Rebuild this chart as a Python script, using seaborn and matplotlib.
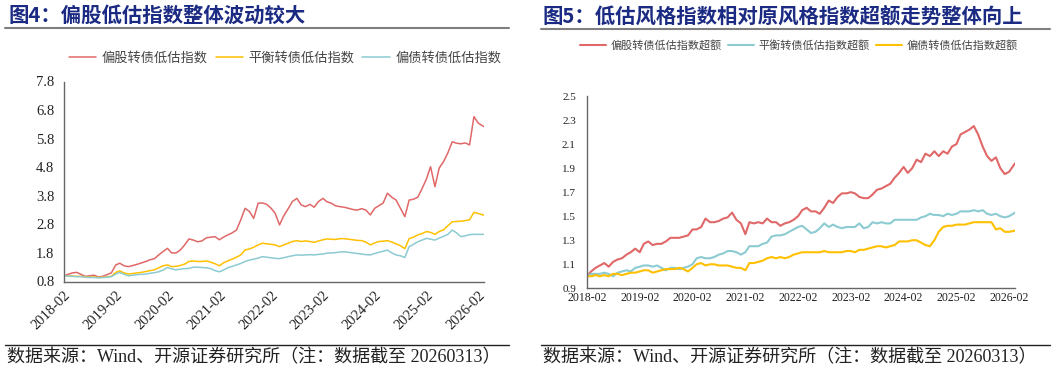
import pandas as pd
import numpy as np
import matplotlib
matplotlib.use('Agg')
import matplotlib.pyplot as plt
import matplotlib.dates as mdates
from matplotlib.lines import Line2D
import seaborn as sns

# ---------------- data (monthly readings, last point = 2026-03-13) ----------------
dates = list(pd.date_range('2018-02-01', '2026-02-01', freq='MS')) + [pd.Timestamp('2026-03-13')]

# Fig 4: index levels
stock_low = (
    [1.00, 1.05, 1.10, 1.12, 1.05, 0.98, 1.00, 1.02, 0.96, 0.98, 1.04]
    + [1.10, 1.38, 1.44, 1.35, 1.32, 1.36, 1.40, 1.45, 1.50, 1.56, 1.60, 1.73]
    + [1.85, 1.96, 1.80, 1.80, 1.90, 2.08, 2.29, 2.25, 2.19, 2.22, 2.33, 2.35]
    + [2.37, 2.26, 2.35, 2.43, 2.50, 2.60, 2.95, 3.36, 3.25, 3.01, 3.54, 3.55]
    + [3.50, 3.36, 3.19, 2.78, 3.10, 3.35, 3.60, 3.71, 3.48, 3.42, 3.50, 3.40]
    + [3.60, 3.71, 3.59, 3.54, 3.45, 3.42, 3.40, 3.36, 3.32, 3.30, 3.35, 3.30]
    + [3.13, 3.36, 3.45, 3.55, 3.89, 3.75, 3.65, 3.36, 3.07, 3.65, 3.68, 3.75]
    + [4.06, 4.40, 4.82, 4.12, 4.77, 5.00, 5.30, 5.69, 5.64, 5.62, 5.65, 5.58]
    + [6.57, 6.34, 6.22]
)
balance_low = (
    [1.00, 1.00, 0.99, 0.98, 0.98, 0.96, 0.95, 0.96, 0.94, 0.95, 0.96]
    + [0.98, 1.12, 1.17, 1.10, 1.06, 1.08, 1.10, 1.12, 1.15, 1.18, 1.21, 1.28]
    + [1.35, 1.38, 1.32, 1.33, 1.36, 1.41, 1.50, 1.52, 1.50, 1.50, 1.52, 1.48]
    + [1.42, 1.35, 1.45, 1.52, 1.58, 1.65, 1.73, 1.90, 1.94, 2.00, 2.08, 2.14]
    + [2.12, 2.10, 2.08, 2.02, 2.08, 2.14, 2.20, 2.23, 2.20, 2.22, 2.20, 2.17]
    + [2.22, 2.26, 2.29, 2.28, 2.27, 2.30, 2.30, 2.28, 2.26, 2.24, 2.23, 2.18]
    + [2.08, 2.15, 2.20, 2.21, 2.23, 2.18, 2.12, 2.05, 1.95, 2.30, 2.35, 2.43]
    + [2.48, 2.55, 2.52, 2.45, 2.55, 2.61, 2.75, 2.89, 2.90, 2.91, 2.93, 2.96]
    + [3.22, 3.18, 3.12]
)
bond_low = (
    [1.00, 0.99, 0.98, 0.97, 0.97, 0.95, 0.94, 0.94, 0.93, 0.94, 0.95]
    + [0.97, 1.06, 1.12, 1.05, 1.00, 1.02, 1.04, 1.05, 1.06, 1.09, 1.11, 1.14]
    + [1.20, 1.29, 1.24, 1.21, 1.23, 1.25, 1.26, 1.30, 1.30, 1.29, 1.28, 1.25]
    + [1.18, 1.14, 1.20, 1.28, 1.33, 1.38, 1.43, 1.50, 1.55, 1.58, 1.62, 1.67]
    + [1.65, 1.63, 1.61, 1.60, 1.63, 1.67, 1.70, 1.73, 1.72, 1.73, 1.74, 1.73]
    + [1.75, 1.76, 1.79, 1.80, 1.81, 1.83, 1.84, 1.82, 1.80, 1.78, 1.76, 1.74]
    + [1.73, 1.78, 1.82, 1.86, 1.90, 1.80, 1.73, 1.70, 1.64, 2.02, 2.10, 2.19]
    + [2.25, 2.31, 2.28, 2.25, 2.32, 2.38, 2.45, 2.60, 2.50, 2.37, 2.40, 2.44]
    + [2.45, 2.45, 2.45]
)

# Fig 5: excess vs. original style index
stock_excess = (
    [1.00, 1.04, 1.07, 1.09, 1.11, 1.08, 1.12, 1.14, 1.15, 1.18, 1.20]
    + [1.23, 1.20, 1.27, 1.29, 1.26, 1.27, 1.27, 1.29, 1.32, 1.32, 1.32, 1.33]
    + [1.34, 1.39, 1.39, 1.41, 1.48, 1.45, 1.45, 1.46, 1.48, 1.49, 1.53, 1.47]
    + [1.44, 1.35, 1.45, 1.44, 1.45, 1.44, 1.48, 1.45, 1.45, 1.42, 1.44, 1.45]
    + [1.47, 1.50, 1.55, 1.57, 1.54, 1.54, 1.52, 1.57, 1.63, 1.61, 1.66, 1.69]
    + [1.69, 1.70, 1.69, 1.66, 1.65, 1.65, 1.68, 1.72, 1.73, 1.75, 1.77, 1.82]
    + [1.86, 1.91, 1.86, 1.90, 1.97, 1.95, 2.02, 2.00, 2.04, 2.00, 2.04, 2.02]
    + [2.08, 2.10, 2.18, 2.20, 2.22, 2.25, 2.18, 2.08, 2.00, 1.96, 1.99, 1.90]
    + [1.85, 1.87, 1.94]
)
balance_excess = (
    [1.00, 1.02, 1.02, 1.02, 1.03, 1.02, 1.00, 1.03, 1.04, 1.05, 1.04]
    + [1.07, 1.08, 1.09, 1.09, 1.08, 1.09, 1.07, 1.05, 1.07, 1.07, 1.06, 1.07]
    + [1.08, 1.10, 1.15, 1.16, 1.15, 1.15, 1.16, 1.18, 1.19, 1.21, 1.21, 1.20]
    + [1.18, 1.20, 1.25, 1.25, 1.25, 1.27, 1.28, 1.33, 1.34, 1.34, 1.35, 1.37]
    + [1.39, 1.41, 1.42, 1.39, 1.36, 1.37, 1.40, 1.44, 1.41, 1.43, 1.41, 1.40]
    + [1.41, 1.41, 1.41, 1.44, 1.40, 1.41, 1.45, 1.44, 1.45, 1.44, 1.44, 1.47]
    + [1.47, 1.47, 1.47, 1.47, 1.47, 1.49, 1.50, 1.52, 1.51, 1.51, 1.50, 1.52]
    + [1.51, 1.52, 1.54, 1.54, 1.54, 1.55, 1.54, 1.55, 1.52, 1.51, 1.52, 1.50]
    + [1.49, 1.50, 1.53]
)
bond_excess = (
    [1.00, 1.00, 1.01, 1.00, 1.01, 1.00, 1.02, 1.02, 1.01, 1.02, 1.03]
    + [1.03, 1.04, 1.05, 1.05, 1.03, 1.04, 1.05, 1.06, 1.06, 1.06, 1.07, 1.06]
    + [1.04, 1.07, 1.10, 1.11, 1.09, 1.10, 1.10, 1.09, 1.09, 1.09, 1.08, 1.07]
    + [1.07, 1.05, 1.11, 1.11, 1.12, 1.13, 1.15, 1.16, 1.15, 1.16, 1.15, 1.16]
    + [1.18, 1.19, 1.20, 1.20, 1.20, 1.20, 1.20, 1.21, 1.20, 1.20, 1.20, 1.20]
    + [1.21, 1.21, 1.20, 1.22, 1.22, 1.23, 1.24, 1.25, 1.25, 1.24, 1.25, 1.26]
    + [1.29, 1.29, 1.29, 1.30, 1.30, 1.28, 1.26, 1.25, 1.30, 1.37, 1.41, 1.42]
    + [1.42, 1.43, 1.43, 1.43, 1.44, 1.45, 1.45, 1.45, 1.45, 1.45, 1.39, 1.40]
    + [1.37, 1.37, 1.38]
)

left_names = ['偏股转债低估指数', '平衡转债低估指数', '偏债转债低估指数']
right_names = ['偏股转债低估指数超额', '平衡转债低估指数超额', '偏债转债低估指数超额']

RED, YELLOW, TEAL = '#E06868', '#FFC000', '#8CCBD2'
NAVY = '#1B2A82'

df_left = pd.DataFrame({
    'date': dates * 3,
    'value': stock_low + balance_low + bond_low,
    'series': sum([[n] * len(dates) for n in left_names], []),
})
df_right = pd.DataFrame({
    'date': dates * 3,
    'value': stock_excess + balance_excess + bond_excess,
    'series': sum([[n] * len(dates) for n in right_names], []),
})

# ---------------- style ----------------
sns.set_theme(style='white')
plt.rcParams['font.family'] = ['Liberation Serif', 'Noto Sans CJK SC']
cjk = ['Noto Sans CJK SC', 'DejaVu Sans']
serif_cjk = ['Liberation Serif', 'Noto Sans CJK SC']

W, H = 1057, 371
fig = plt.figure(figsize=(W / 100, H / 100), dpi=100)
ax1 = fig.add_axes([64 / W, 89.5 / H, 420 / W, 200 / H])
ax2 = fig.add_axes([587 / W, 82.7 / H, 428 / W, 192.3 / H])

# ---------------- left chart ----------------
sns.lineplot(data=df_left, x='date', y='value', hue='series', hue_order=left_names,
             palette=[RED, YELLOW, TEAL], linewidth=1.1, ax=ax1)
ax1.set_ylim(0.8, 7.8)
ax1.set_yticks(np.arange(0.8, 7.81, 1.0))
ax1.yaxis.set_major_formatter(matplotlib.ticker.FormatStrFormatter('%.1f'))
ax1.set_xlim(dates[0], dates[-1])
ax1.xaxis.set_major_locator(mdates.YearLocator(base=1, month=2, day=1))
ax1.xaxis.set_major_formatter(mdates.DateFormatter('%Y-%m'))
for lbl in ax1.get_xticklabels():
    lbl.set_rotation(45)
    lbl.set_ha('right')
    lbl.set_rotation_mode('anchor')
ax1.tick_params(axis='both', direction='in', length=4, width=0.8, color='#555555',
                labelsize=10.5, labelcolor='#222222')
ax1.tick_params(axis='y', pad=7)
ax1.tick_params(axis='x', pad=5)

h, l = ax1.get_legend_handles_labels()
ax1.legend(h, l, loc='center', bbox_to_anchor=(285 / W, 1 - 58 / H), bbox_transform=fig.transFigure,
           ncol=3, frameon=False, handlelength=2.1, handletextpad=0.4, columnspacing=0.6,
           prop={'family': cjk, 'size': 9.5}, labelcolor='#444444')

# ---------------- right chart ----------------
sns.lineplot(data=df_right, x='date', y='value', hue='series', hue_order=right_names,
             palette=[RED, TEAL, YELLOW], linewidth=1.5, ax=ax2)
ax2.set_ylim(0.9, 2.5)
ax2.set_yticks(np.arange(0.9, 2.51, 0.2))
ax2.yaxis.set_major_formatter(matplotlib.ticker.FormatStrFormatter('%.1f'))
ax2.set_xlim(dates[0], dates[-1])
ax2.xaxis.set_major_locator(mdates.YearLocator(base=1, month=2, day=1))
ax2.xaxis.set_major_formatter(mdates.DateFormatter('%Y-%m'))
ax2.tick_params(axis='both', direction='in', length=4, width=0.8, color='#555555',
                labelsize=8.5, labelcolor='#222222')
ax2.tick_params(axis='y', pad=8, labelsize=8)
ax2.tick_params(axis='x', pad=3)

h, l = ax2.get_legend_handles_labels()
ax2.legend(h, l, loc='center', bbox_to_anchor=(799 / W, 1 - 45 / H), bbox_transform=fig.transFigure,
           ncol=3, frameon=False, handlelength=2.3, handletextpad=0.4, columnspacing=0.6,
           prop={'family': cjk, 'size': 8}, labelcolor='#444444')

for ax in (ax1, ax2):
    ax.set_xlabel('')
    ax.set_ylabel('')
    for side in ('top', 'right'):
        ax.spines[side].set_visible(False)
    for side in ('left', 'bottom'):
        ax.spines[side].set_color('#666666')
        ax.spines[side].set_linewidth(1.0)

# ---------------- titles, rules, source ----------------
fig.text(8 / W, 1 - 15 / H, '图4：偏股低估指数整体波动较大', family=cjk, weight='bold',
         fontsize=14.7, color=NAVY, va='center', ha='left')
fig.text(542 / W, 1 - 16 / H, '图5：低估风格指数相对原风格指数超额走势整体向上', family=cjk, weight='bold',
         fontsize=14.7, color=NAVY, va='center', ha='left')

for x0, x1, y in [(5, 509, 28), (541, 1050, 29)]:
    fig.add_artist(Line2D([x0 / W, x1 / W], [1 - y / H] * 2, transform=fig.transFigure,
                          color='#7f7f7f', linewidth=1.5))
for x0, x1 in [(5, 509), (541, 1050)]:
    fig.add_artist(Line2D([x0 / W, x1 / W], [1 - 345 / H] * 2, transform=fig.transFigure,
                          color='#222222', linewidth=1.0))

src = '数据来源：Wind、开源证券研究所（注：数据截至 20260313）'
fig.text(7 / W, 1 - 358 / H, src, family=serif_cjk, fontsize=13, color='#222222', va='center', ha='left')
fig.text(543 / W, 1 - 358 / H, src, family=serif_cjk, fontsize=13, color='#222222', va='center', ha='left')

fig.savefig('out.png', dpi=100)
